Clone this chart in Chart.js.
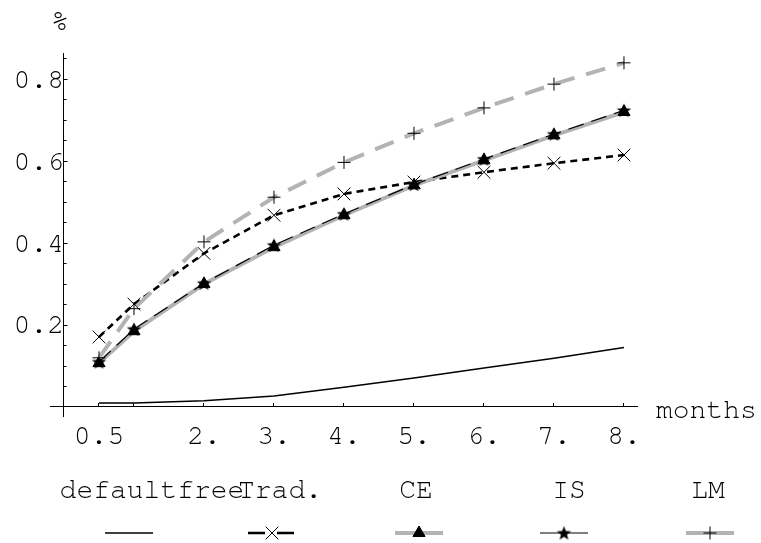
<!DOCTYPE html>
<html>
<head>
<meta charset="utf-8">
<title>Default probability by model</title>
<script src="https://cdn.jsdelivr.net/npm/chart.js@4/dist/chart.umd.min.js"></script>
<style>
  body { margin: 0; background: #fff; }
  canvas { display: block; }
</style>
</head>
<body>
<canvas id="myChart" width="761" height="543"></canvas>
<script>
// horizon in months for every model
var months = [0.5, 1, 2, 3, 4, 5, 6, 7, 8];

var defaultfree = [0.010, 0.010, 0.015, 0.027, 0.048, 0.071, 0.095, 0.119, 0.145];
var trad = [0.171, 0.251, 0.375, 0.468, 0.520, 0.549, 0.573, 0.595, 0.615];
var ce = [0.107, 0.185, 0.300, 0.390, 0.468, 0.541, 0.602, 0.663, 0.720];
var is = [0.110, 0.190, 0.302, 0.395, 0.471, 0.543, 0.605, 0.666, 0.724];
var lm = [0.120, 0.240, 0.403, 0.512, 0.597, 0.668, 0.730, 0.788, 0.840];

var seriesNames = ['defaultfree', 'Trad.', 'CE', 'IS', 'LM'];

var xTicks = [0.5, 1, 2, 3, 4, 5, 6, 7, 8];
var xTickLabels = ['0.5', '', '2.', '3.', '4.', '5.', '6.', '7.', '8.'];
var yTicks = [0.2, 0.4, 0.6, 0.8];
var yTickLabels = ['0.2', '0.4', '0.6', '0.8'];
var yMinorTicks = [0.05, 0.1, 0.15, 0.25, 0.3, 0.35, 0.45, 0.5, 0.55, 0.65, 0.7, 0.75, 0.85];

var GRAY = '#b3b3b3';
var FONT = '"Nimbus Mono PS", "Nimbus Mono L", FreeMono, "Courier New", Courier, "Liberation Mono", monospace';

function pairs(vals) {
  return months.map(function (m, i) { return { x: m, y: vals[i] }; });
}

// filled five point star used as marker for IS
function makeStar(r) {
  var c = document.createElement('canvas');
  var s = Math.ceil(r * 2 + 2);
  c.width = s; c.height = s;
  var g = c.getContext('2d');
  g.fillStyle = '#000';
  g.beginPath();
  for (var k = 0; k < 10; k++) {
    var rr = k % 2 === 0 ? r : r * 0.42;
    var a = -Math.PI / 2 + k * Math.PI / 5;
    var px = s / 2 + rr * Math.cos(a), py = s / 2 + 0.6 + rr * Math.sin(a);
    if (k === 0) g.moveTo(px, py); else g.lineTo(px, py);
  }
  g.closePath();
  g.fill();
  return c;
}
var star = makeStar(7.5);

// legend + axis captions, Mathematica style
var legendLabelX = [152, 280, 416, 569, 708];
var legendSampleX = [129, 272, 419, 564, 710];

var extras = {
  id: 'extras',
  afterDraw: function (chart) {
    var ctx = chart.ctx;
    ctx.save();
    ctx.fillStyle = '#000';
    ctx.font = '28px ' + FONT;
    ctx.textBaseline = 'alphabetic';
    ctx.textAlign = 'left';
    ctx.fillText('months', 656, 418);
    ctx.textAlign = 'center';
    ctx.font = '30px ' + FONT;
    ctx.fillText('%', 60, 30);
    ctx.font = '28px ' + FONT;
    seriesNames.forEach(function (name, i) {
      ctx.fillText(name, legendLabelX[i], 498);
    });

    var y = 533;
    chart.data.datasets.forEach(function (ds, i) {
      var cx = legendSampleX[i];
      ctx.save();
      ctx.strokeStyle = ds.borderColor;
      ctx.lineWidth = ds.borderWidth;
      ctx.setLineDash(ds.legendDash || []);
      ctx.beginPath();
      ctx.moveTo(cx - 24, y);
      ctx.lineTo(cx + 24, y);
      ctx.stroke();
      ctx.restore();
      if (ds.pointRadius > 0) {
        ctx.save();
        ctx.fillStyle = ds.pointBackgroundColor;
        ctx.strokeStyle = ds.pointBorderColor;
        ctx.lineWidth = ds.pointBorderWidth;
        Chart.helpers.drawPoint(ctx, {
          pointStyle: ds.pointStyle,
          radius: ds.pointRadius,
          rotation: 0,
          borderWidth: ds.pointBorderWidth
        }, cx, y);
        ctx.restore();
      }
    });
    ctx.restore();
  }
};

var ctx = document.getElementById('myChart').getContext('2d');
new Chart(ctx, {
  type: 'line',
  data: {
    datasets: [
      {
        label: seriesNames[0], data: pairs(defaultfree), order: 5,
        borderColor: '#000', borderWidth: 1.5, pointRadius: 0
      },
      {
        label: seriesNames[1], data: pairs(trad), order: 4,
        borderColor: '#000', borderWidth: 2.6, borderDash: [7, 5],
        legendDash: [17, 12],
        pointStyle: 'crossRot', pointRadius: 9,
        pointBorderColor: '#000', pointBackgroundColor: '#000', pointBorderWidth: 1
      },
      {
        label: seriesNames[2], data: pairs(ce), order: 3,
        borderColor: GRAY, borderWidth: 4,
        pointStyle: 'triangle', pointRadius: 7,
        pointBorderColor: '#000', pointBackgroundColor: '#000', pointBorderWidth: 1
      },
      {
        label: seriesNames[3], data: pairs(is), order: 2,
        borderColor: '#000', borderWidth: 1.2, borderDash: [16, 8],
        pointStyle: star, pointRadius: 8,
        pointBorderColor: '#000', pointBackgroundColor: '#000', pointBorderWidth: 1
      },
      {
        label: seriesNames[4], data: pairs(lm), order: 1,
        borderColor: GRAY, borderWidth: 4, borderDash: [20, 12],
        pointStyle: 'cross', pointRadius: 6.5,
        pointBorderColor: '#000', pointBackgroundColor: '#000', pointBorderWidth: 1
      }
    ]
  },
  options: {
    responsive: false,
    animation: false,
    events: [],
    layout: { padding: { left: 50, top: 53, right: 124, bottom: 127 } },
    plugins: { legend: { display: false }, tooltip: { enabled: false } },
    elements: { line: { tension: 0, borderCapStyle: 'butt' } },
    scales: {
      x: {
        type: 'linear',
        min: -0.2,
        max: 8.186,
        position: { y: 0 },
        afterBuildTicks: function (axis) {
          axis.ticks = xTicks.map(function (v) { return { value: v }; });
        },
        grid: { drawOnChartArea: false, drawTicks: true, tickLength: -4, tickColor: '#000', color: '#000' },
        border: { color: '#000', width: 1 },
        ticks: {
          autoSkip: false, maxRotation: 0, padding: 16,
          color: '#000', font: { family: FONT, size: 28 },
          callback: function (v) {
            var i = xTicks.indexOf(v);
            return i < 0 ? '' : xTickLabels[i];
          }
        }
      },
      y: {
        type: 'linear',
        min: -0.022,
        max: 0.864,
        position: { x: 0 },
        afterBuildTicks: function (axis) {
          axis.ticks = yTicks.map(function (v) { return { value: v }; });
        },
        grid: { drawOnChartArea: false, drawTicks: true, tickLength: -4.5, tickColor: '#000', color: '#000' },
        border: { color: '#000', width: 1 },
        ticks: {
          autoSkip: false, padding: 3.5,
          color: '#000', font: { family: FONT, size: 28 },
          callback: function (v) {
            var i = yTicks.indexOf(v);
            return i < 0 ? '' : yTickLabels[i];
          }
        }
      },
      yMinor: {
        type: 'linear',
        axis: 'y',
        min: -0.022,
        max: 0.864,
        position: { x: 0 },
        afterBuildTicks: function (axis) {
          axis.ticks = yMinorTicks.map(function (v) { return { value: v }; });
        },
        grid: { drawOnChartArea: false, drawTicks: true, tickLength: -2.5, tickColor: '#000', color: '#000' },
        border: { display: false },
        ticks: { autoSkip: false, display: true, callback: function () { return ''; } }
      }
    }
  },
  plugins: [extras]
});
</script>
</body>
</html>
